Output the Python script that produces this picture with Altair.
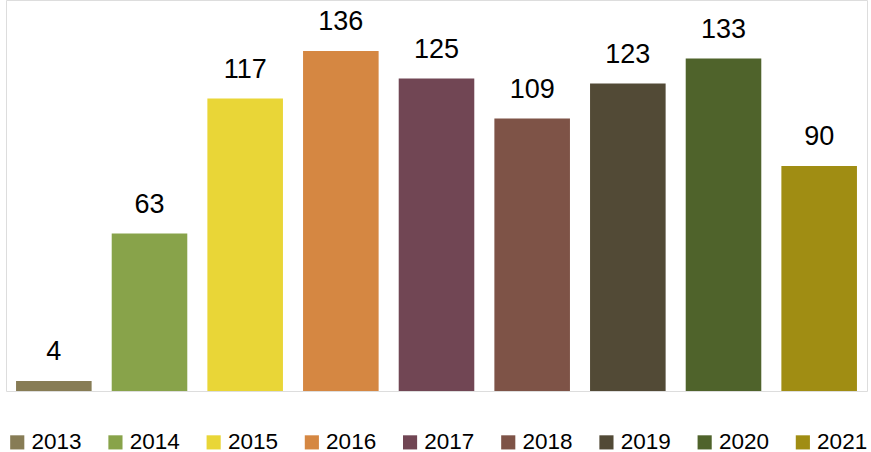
import altair as alt
import pandas as pd

years = ["2013", "2014", "2015", "2016", "2017", "2018", "2019", "2020", "2021"]
values = [4, 63, 117, 136, 125, 109, 123, 133, 90]
colors = ["#877C55", "#88A34A", "#E9D637", "#D58742", "#714654", "#7E5347",
          "#524A36", "#4F632B", "#A08D13"]

df = pd.DataFrame({"year": years, "value": values})

x = alt.X("year:N", sort=years, axis=None,
          scale=alt.Scale(paddingInner=0.21, paddingOuter=0.105))
y = alt.Y("value:Q", axis=None, scale=alt.Scale(domain=[0, 156.4], nice=False, zero=True))

bars = alt.Chart(df).mark_bar().encode(
    x=x, y=y,
    color=alt.Color("year:N", sort=years,
                    scale=alt.Scale(domain=years, range=colors),
                    legend=alt.Legend(
                        title=None, orient="none", direction="horizontal",
                        columns=9, legendX=0, legendY=431, padding=0,
                        symbolType="square", symbolSize=200, symbolStrokeWidth=0,
                        symbolOpacity=1,
                        labelFont="Liberation Sans", labelFontSize=22.5,
                        labelColor="#000000", labelOffset=3,
                        columnPadding=22.2)),
)

labels = alt.Chart(df).mark_text(
    font="Liberation Sans", fontSize=27, color="#000000",
    baseline="alphabetic", dy=-21
).encode(x=x, y=y, text="value:Q")

chart = (bars + labels).properties(
    width=861, height=391,
    autosize=alt.AutoSizeParams(type="none"),
    padding={"left": 6, "top": 0, "right": 4, "bottom": 61},
).configure_view(stroke=None).configure(background="white")

chart.save("out.html", embed_options={"renderer": "svg", "actions": False})
